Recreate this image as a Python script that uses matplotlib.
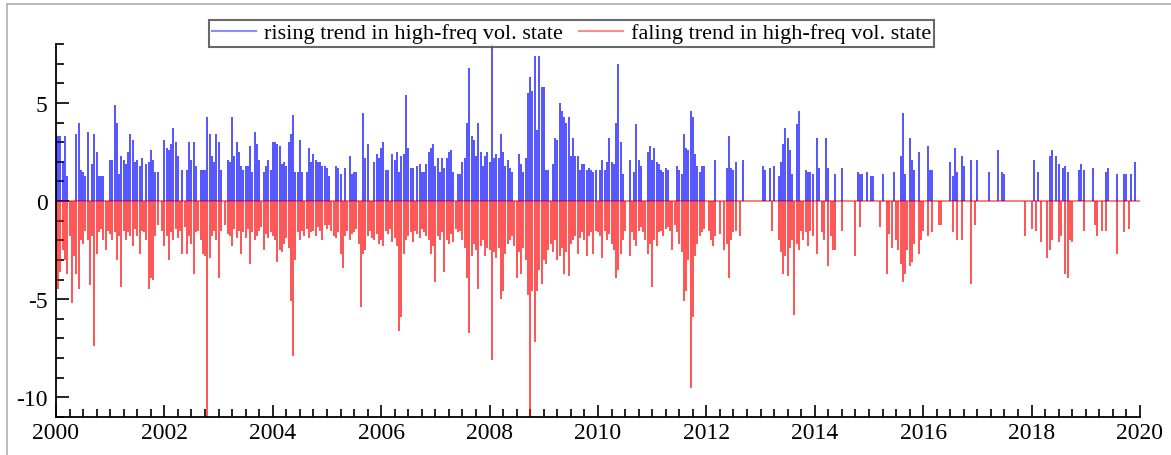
import matplotlib.pyplot as plt
import numpy as np
from matplotlib.lines import Line2D
from matplotlib.ticker import MultipleLocator

# semi-monthly slots, 24 per year, 2000..2019 (0 = no spike)
years = list(range(2000, 2020))

rising = [
    [3.4, 3.3, 3.3, 2.0, 3.3, 1.3, 0, 0, 0, 3.4, 4.0, 1.6, 1.5, 1.3, 3.5, 0, 1.9, 3.4, 2.5, 1.3, 1.3, 1.3, 0, 0],
    [2.1, 2.1, 4.9, 4.0, 1.4, 2.3, 2.1, 1.9, 2.5, 3.4, 3.1, 2.0, 2.1, 1.8, 2.2, 0, 1.9, 2.0, 2.6, 2.1, 1.5, 1.5, 0, 0],
    [3.1, 2.7, 2.6, 2.9, 3.7, 3.0, 2.3, 0, 1.6, 0, 1.6, 3.0, 2.1, 3.0, 1.8, 0, 1.6, 1.6, 1.6, 4.3, 3.4, 2.3, 2.0, 3.4],
    [3.0, 1.6, 0, 0, 2.1, 2.0, 4.3, 2.3, 3.0, 2.5, 1.8, 1.6, 1.8, 1.8, 2.8, 1.5, 3.5, 2.9, 2.1, 0, 1.5, 1.8, 2.1, 1.6],
    [3.0, 3.0, 2.9, 2.8, 1.9, 2.0, 1.8, 3.0, 3.4, 4.4, 1.5, 1.5, 3.1, 1.5, 0, 1.5, 2.7, 2.0, 2.4, 2.1, 2.0, 2.0, 1.8, 1.8],
    [1.7, 1.3, 0, 0, 1.8, 1.7, 1.4, 0, 1.7, 0, 2.3, 1.4, 1.5, 1.5, 0, 0, 4.5, 2.2, 2.9, 0, 0, 2.0, 2.4, 2.2],
    [2.7, 3.0, 1.6, 1.6, 0, 2.4, 2.1, 2.5, 1.5, 2.3, 2.4, 5.4, 2.7, 1.7, 1.7, 0, 1.8, 1.9, 1.5, 1.5, 1.9, 2.5, 2.7, 2.9],
    [1.8, 2.2, 1.5, 2.2, 1.7, 2.2, 2.5, 2.6, 1.5, 0, 1.4, 1.4, 2.0, 2.2, 4.0, 6.8, 3.3, 3.1, 2.3, 4.0, 2.5, 1.8, 2.3, 2.5],
    [2.0, 8.5, 2.2, 2.4, 2.2, 3.4, 2.5, 1.8, 2.1, 1.7, 1.5, 0, 0, 2.4, 1.9, 1.5, 2.2, 5.5, 6.3, 5.6, 7.4, 3.6, 7.4, 5.8],
    [5.8, 1.6, 1.6, 0, 1.9, 3.2, 3.1, 5.0, 4.6, 4.3, 4.0, 4.3, 2.3, 3.2, 2.3, 2.3, 1.6, 1.9, 1.9, 1.6, 1.7, 1.6, 1.5, 1.6],
    [0, 1.6, 2.1, 1.6, 2.0, 3.2, 2.0, 1.9, 4.0, 7.0, 3.0, 1.4, 0, 0, 2.1, 0, 1.5, 3.9, 2.1, 1.8, 0, 0, 2.5, 2.8],
    [2.1, 2.7, 2.0, 1.9, 1.6, 1.5, 1.7, 1.6, 0, 0, 0, 1.8, 1.6, 1.4, 3.4, 2.7, 2.6, 4.6, 4.3, 2.4, 1.8, 1.5, 1.8, 1.8],
    [0, 0, 0, 0, 2.1, 0, 0, 0, 0, 1.7, 3.3, 1.7, 1.6, 2.0, 0, 0, 2.1, 0, 0, 0, 0, 0, 0, 0],
    [0, 1.8, 1.6, 0, 1.7, 0, 1.8, 0, 1.3, 2.0, 2.9, 3.7, 3.2, 2.6, 1.4, 0, 3.9, 4.6, 0, 0, 1.6, 1.5, 1.5, 1.4],
    [0, 3.2, 1.7, 0, 0, 3.2, 1.7, 0, 0, 1.4, 0, 0, 1.7, 0, 0, 0, 0, 0, 0, 1.5, 1.4, 1.4, 0, 1.5],
    [0, 1.3, 1.3, 0, 0, 0, 1.4, 0, 0, 0, 0, 1.5, 0, 0, 2.3, 4.5, 1.4, 0, 3.2, 2.1, 1.6, 0, 2.5, 0],
    [0, 0, 2.8, 1.6, 1.6, 0, 0, 0, 0, 0, 0, 0, 2.0, 1.3, 2.7, 1.5, 0, 2.3, 1.8, 0, 0, 2.1, 0, 0],
    [2.1, 0, 0, 0, 0, 1.5, 0, 0, 0, 2.6, 0, 1.5, 1.4, 0, 0, 0, 0, 0, 0, 0, 0, 0, 0, 0],
    [0, 2.1, 0, 1.5, 0, 0, 0, 0, 2.3, 2.6, 0, 2.3, 1.9, 0, 1.7, 1.8, 1.5, 0, 0, 0, 0, 1.6, 1.9, 1.6],
    [0, 0, 0, 1.7, 0, 0, 0, 0, 0, 1.5, 1.7, 0, 0, 0, 1.4, 0, 0, 1.4, 1.4, 0, 1.4, 0, 2.0, 0],
]

falling = [
    [-3.3, -4.5, -3.6, -2.5, -3.0, -3.7, -1.8, -5.2, -2.8, -3.7, -4.5, -2.0, -2.2, -1.5, -2.0, -4.3, -1.8, -7.4, -2.7, -1.6, -1.4, -2.0, -2.5, -1.5],
    [-1.7, -2.0, -1.6, -3.0, -1.8, -4.4, -1.5, -2.0, -1.6, -1.8, -2.3, -1.4, -1.8, -2.7, -1.5, -1.6, -2.0, -4.5, -3.9, -4.0, -1.8, -1.2, 0, -1.5],
    [-2.3, -1.8, -3.0, -1.6, -2.0, -1.4, -1.9, -1.5, -2.7, -1.3, -2.7, -1.8, -2.2, -3.7, -1.6, -1.5, -2.0, -2.7, -2.8, -11.5, -2.9, -1.8, -1.5, -2.0],
    [-3.9, -1.5, 0, -1.2, -1.7, -1.8, -2.3, -1.4, -1.9, -1.5, -2.7, -1.6, -1.9, -1.4, -3.2, -1.6, -2.0, -1.8, -1.5, -1.3, -2.5, -1.7, -1.9, -1.6],
    [-1.8, -2.0, -3.1, -2.5, -2.6, -2.2, -1.9, -2.4, -5.1, -7.9, -3.0, -1.6, -2.0, -1.5, -1.8, -1.4, -1.9, -1.6, -1.5, -1.8, -1.3, -1.5, -2.0, -1.2],
    [-1.4, -1.2, -1.5, -1.8, -1.9, -1.6, -2.7, -3.4, -1.8, -1.5, -2.0, -1.7, -1.6, -1.4, -2.2, -5.4, -2.7, -2.5, -1.8, -1.5, -1.9, -2.0, -1.7, -2.2],
    [-2.0, -2.3, -1.5, -1.7, -1.4, -2.1, -1.9, -2.3, -6.6, -5.9, -2.7, -2.0, -1.8, -1.6, -2.1, -1.5, -1.7, -1.9, -1.4, -1.6, -1.8, -2.0, -2.7, -2.3],
    [-4.1, -1.8, -2.0, -1.6, -3.6, -2.0, -2.2, -1.7, -2.1, -1.4, -1.6, -1.5, -2.0, -2.4, -3.9, -6.7, -2.8, -2.2, -2.5, -4.5, -2.3, -2.0, -2.8, -2.4],
    [-2.5, -8.1, -2.6, -2.9, -2.4, -5.0, -4.6, -2.7, -2.2, -2.0, -1.8, -2.3, -3.9, -2.6, -3.7, -2.4, -3.0, -4.8, -11.5, -4.6, -7.2, -4.6, -3.5, -4.2],
    [-3.0, -3.2, -2.5, -2.2, -2.6, -2.0, -3.0, -2.8, -2.4, -3.7, -2.6, -3.8, -2.2, -2.0, -1.8, -2.7, -1.9, -1.6, -2.0, -2.8, -1.8, -1.6, -2.7, -1.5],
    [-1.6, -1.8, -2.9, -1.5, -2.0, -1.7, -2.2, -2.5, -3.9, -3.5, -2.7, -2.0, -1.5, 0, -2.8, -1.6, -2.0, -2.3, -1.5, -1.3, -1.6, -2.0, -2.7, -2.2],
    [-4.4, -2.0, -2.3, -1.6, -1.5, -1.8, -1.4, -1.3, -1.5, -2.5, -1.2, -1.6, -2.2, -2.6, -5.1, -4.6, -3.0, -9.5, -5.9, -2.8, -2.2, -1.8, -1.6, -1.4],
    [0, -1.5, -2.0, -2.3, -1.8, 0, -1.7, 0, -2.5, -2.2, -3.9, -2.0, -1.6, -1.5, 0, -1.8, 0, 0, 0, 0, 0, 0, 0, 0],
    [0, 0, 0, 0, 0, -1.5, 0, 0, -2.0, -2.6, -3.7, -2.8, -3.8, -2.4, -2.0, -5.8, -2.2, -2.5, -1.5, -2.0, -1.6, -2.3, -1.5, -1.8],
    [0, -2.7, 0, -1.6, -2.0, 0, -3.3, -1.8, -2.5, -2.5, 0, 0, -1.5, 0, 0, 0, 0, 0, -2.8, 0, -1.3, 0, 0, 0],
    [0, 0, 0, 0, 0, -1.3, 0, 0, -3.7, -1.7, -2.4, 0, -2.0, -2.5, -3.2, -4.1, -3.7, -2.5, -3.3, -3.1, -2.2, 0, -2.7, -2.0],
    [-1.5, 0, -1.8, 0, -1.6, 0, 0, -1.2, -1.2, 0, 0, 0, 0, -1.6, 0, -2.0, 0, -2.0, 0, 0, 0, -4.2, 0, -1.2],
    [0, 0, 0, 0, 0, 0, 0, 0, 0, 0, 0, 0, 0, 0, 0, 0, 0, 0, 0, 0, 0, -1.8, 0, 0],
    [-1.4, 0, -1.5, 0, -2.1, 0, 0, -2.9, -2.5, -2.0, 0, 0, -2.1, -1.8, 0, -3.7, -3.9, -2.0, -2.1, 0, 0, 0, 0, -1.5],
    [0, 0, 0, 0, -1.2, -1.8, 0, -1.5, 0, -1.5, 0, 0, 0, 0, -2.7, 0, 0, -1.6, 0, -1.4, 0, 0, 0, 0],
]

labels = ['rising trend in high-freq vol. state', 'faling trend in high-freq vol. state']

t = np.array([y + s / 24 for y in years for s in range(24)])
up = np.array(rising).ravel()
dn = np.array(falling).ravel()

plt.rcParams['font.family'] = ['Liberation Serif', 'DejaVu Serif']
plt.rcParams['axes.unicode_minus'] = False

fig = plt.figure(figsize=(11.71, 4.56), dpi=100)
ax = fig.add_axes([0.0478, 0.0833, 0.9257, 0.818])

ax.axhline(0, color='#ff0000', lw=1.2, alpha=0.6, zorder=1)
m = up != 0
ax.vlines(t[m], 0, up[m], color='#0000ff', lw=1.3, alpha=0.72)
m = dn != 0
ax.vlines(t[m], 0, dn[m], color='#ff0000', lw=1.3, alpha=0.72)

ax.set_xlim(2000, 2020)
ax.set_ylim(-11, 8)
ax.set_xticks(range(2000, 2021, 2))
ax.xaxis.set_minor_locator(MultipleLocator(0.25))
ax.set_yticks([-10, -5, 0, 5])
ax.yaxis.set_minor_locator(MultipleLocator(1))
ax.tick_params(which='both', direction='in', labelsize=17, width=1.2)
ax.tick_params(which='major', length=9)
ax.tick_params(which='minor', length=6)
ax.tick_params(axis='y', pad=6)
for s in ['top', 'right']:
    ax.spines[s].set_visible(False)
for s in ['left', 'bottom']:
    ax.spines[s].set_linewidth(1.3)

handles = [Line2D([], [], color='#0000ff', alpha=0.45, lw=1.5),
           Line2D([], [], color='#ff0000', alpha=0.45, lw=1.5)]
leg = fig.legend(handles, labels, loc='upper center', bbox_to_anchor=(0.488, 0.955),
                 ncol=2, fontsize=16, frameon=True, fancybox=False, borderpad=0.15,
                 handlelength=2.0, columnspacing=0.7, handletextpad=0.35,
                 borderaxespad=0)
leg.get_frame().set_edgecolor('#444444')
leg.get_frame().set_linewidth(1.5)

# grey page frame
fig.add_artist(Line2D([0.006, 1.0], [0.989, 0.989], color='#b0b0b0', lw=1.2))
fig.add_artist(Line2D([0.006, 0.006], [0.0, 0.989], color='#b0b0b0', lw=1.2))

fig.savefig('out.png', dpi=100)
